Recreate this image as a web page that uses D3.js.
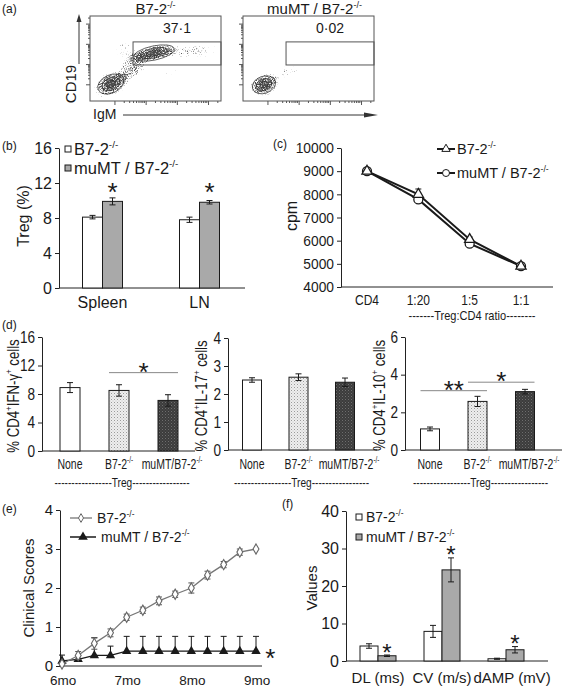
<!DOCTYPE html>
<html><head><meta charset="utf-8">
<script src="https://cdn.jsdelivr.net/npm/d3@7/dist/d3.min.js"></script>
<style>
html,body{margin:0;padding:0;background:#fff;}
svg{display:block;}
</style></head><body>
<svg id="fig" width="568" height="686" xmlns="http://www.w3.org/2000/svg"></svg>
<script>
// ================= DATA =================
// (a) flow cytometry (positions in log-decade units)
const flowTitles = ["B7-2^{-/-}", "muMT / B7-2^{-/-}"];
const flowGateLabels = ["37·1", "0·02"];
const flowGateX = [1.38, 4.2];
const flowGateY = [1.78, 2.92];
const flowDecades = [0.8, 1.8, 2.8, 3.8];
const flowCloudsB7 = [
  {cx:0.67, cy:0.84, rx:0.72, ry:0.72, rot:-25, d:1.0, rings:[0.62,0.42,0.22]},
  {cx:2.05, cy:2.37, rx:0.95, ry:0.5, rot:-12, d:1.0, rings:[0.7,0.48,0.26]},
  {cx:1.35, cy:1.6, rx:0.7, ry:0.7, rot:-40, d:0.75, rings:[]},
  {cx:3.3, cy:2.45, rx:1.1, ry:0.5, rot:-5, d:0.6, rings:[]},
  {cx:1.1, cy:2.5, rx:0.55, ry:0.75, rot:0, d:0.5, rings:[]},
  {cx:2.6, cy:1.3, rx:0.9, ry:0.5, rot:-15, d:0.35, rings:[]}
];
const flowCloudsMu = [
  {cx:0.67, cy:0.8, rx:0.62, ry:0.68, rot:-20, d:1.0, rings:[0.62,0.42,0.22]},
  {cx:1.4, cy:1.45, rx:0.65, ry:0.55, rot:-30, d:0.5, rings:[]},
  {cx:2.7, cy:1.15, rx:1.1, ry:0.45, rot:0, d:0.3, rings:[]}
];
// (b) Treg %
const tregCats = ["Spleen", "LN"];
const tregB7 = [8.1, 7.8];
const tregB7Err = [0.2, 0.3];
const tregMu = [9.9, 9.8];
const tregMuErr = [0.4, 0.2];
const tregStars = [11.7, 11.7];
const tregTicks = [0, 4, 8, 12, 16];
// (c) proliferation
const ratioCats = ["CD4", "1:20", "1:5", "1:1"];
const cpmB7 = [9000, 8000, 6050, 4900];
const cpmB7Err = [60, 230, 110, 60];
const cpmMu = [9000, 7780, 5870, 4900];
const cpmMuErr = [60, 120, 80, 60];
const cpmTicks = [4000, 5000, 6000, 7000, 8000, 9000, 10000];
// (d) cytokines
const cytoCats = ["None", "B7-2^{-/-}", "muMT/B7-2^{-/-}"];
const ifnVals = [8.9, 8.5, 7.1];
const ifnErr = [0.7, 0.8, 0.8];
const il17Vals = [2.5, 2.6, 2.42];
const il17Err = [0.08, 0.12, 0.15];
const il10Vals = [1.12, 2.58, 3.1];
const il10Err = [0.1, 0.27, 0.12];
const ifnTicks = [0, 4, 8, 12, 16];
const il17Ticks = [0, 1, 2, 3, 4];
const il10Ticks = [0, 2, 4, 6];
const ifnSig = [{a:1, b:2, level:11.0, label:"*"}];
const il17Sig = [];
const il10Sig = [{a:0, b:1, level:3.15, label:"**"}, {a:1, b:2, level:3.6, label:"*"}];
// (e) clinical scores
const months = [6, 6.25, 6.5, 6.75, 7, 7.25, 7.5, 7.75, 8, 8.25, 8.5, 8.75, 9];
const scoreB7 = [0.05, 0.27, 0.58, 0.85, 1.25, 1.43, 1.67, 1.84, 2.0, 2.33, 2.6, 2.92, 3.0];
const scoreB7Err = [0.04, 0.1, 0.15, 0.1, 0.08, 0.08, 0.1, 0.08, 0.13, 0.1, 0.08, 0.08, 0];
const scoreMu = [0.13, 0.17, 0.27, 0.27, 0.38, 0.38, 0.38, 0.38, 0.38, 0.38, 0.38, 0.38, 0.38];
const scoreMuErr = [0.15, 0.1, 0.45, 0.24, 0.38, 0.38, 0.38, 0.38, 0.38, 0.38, 0.38, 0.38, 0.38];
const monthTicks = [6, 7, 8, 9];
const monthLabels = ["6mo", "7mo", "8mo", "9mo"];
const scoreTicks = [0, 1, 2, 3, 4];
const scoreStar = {month: 9.22, score: 0.36};
// (f) nerve conduction
const ncsCats = ["DL (ms)", "CV (m/s)", "dAMP (mV)"];
const ncsB7 = [4.0, 7.9, 0.6];
const ncsB7Err = [0.6, 1.6, 0.15];
const ncsMu = [1.4, 24.3, 3.0];
const ncsMuErr = [0.2, 3.2, 0.85];
const ncsStars = [3.7, 29.8, 6.1];
const ncsTicks = [0, 10, 20, 30, 40];
const seriesNames = ["B7-2^{-/-}", "muMT / B7-2^{-/-}"];

// ================= HELPERS =================
const svg = d3.select("#fig");
svg.append("rect").attr("width", 568).attr("height", 686).attr("fill", "#fff");
const defs = svg.append("defs");
const FONT = '"Liberation Sans", Arial, Helvetica, sans-serif';
const INK = "#1a1a1a";
const GRAYBAR = "#a9a9a9";
const INT = d3.format("d");

// patterns
const pDots = defs.append("pattern").attr("id", "dots").attr("width", 3).attr("height", 3).attr("patternUnits", "userSpaceOnUse");
pDots.append("rect").attr("width", 3).attr("height", 3).attr("fill", "#eeeeee");
pDots.append("rect").attr("width", 1).attr("height", 1).attr("fill", "#9a9a9a");
pDots.append("rect").attr("x", 1.5).attr("y", 1.5).attr("width", 1).attr("height", 1).attr("fill", "#c4c4c4");
const pDark = defs.append("pattern").attr("id", "dark").attr("width", 3).attr("height", 3).attr("patternUnits", "userSpaceOnUse");
pDark.append("rect").attr("width", 3).attr("height", 3).attr("fill", "#3c3c3c");
pDark.append("rect").attr("width", 1).attr("height", 1).attr("fill", "#6e6e6e");
pDark.append("rect").attr("x", 1.5).attr("y", 1.5).attr("width", 1).attr("height", 1).attr("fill", "#555");

// cloud gradient + speckle filter for flow plots
const cg = defs.append("radialGradient").attr("id", "cloudGrad");
cg.append("stop").attr("offset", "0%").attr("stop-color", "#000").attr("stop-opacity", 0.9);
cg.append("stop").attr("offset", "55%").attr("stop-color", "#000").attr("stop-opacity", 0.6);
cg.append("stop").attr("offset", "100%").attr("stop-color", "#000").attr("stop-opacity", 0);
const fl = defs.append("filter").attr("id", "speckle").attr("x", "-20%").attr("y", "-20%")
  .attr("width", "140%").attr("height", "140%").attr("color-interpolation-filters", "sRGB");
fl.append("feTurbulence").attr("type", "fractalNoise").attr("baseFrequency", 0.9).attr("numOctaves", 2).attr("seed", 7).attr("result", "noise");
fl.append("feColorMatrix").attr("in", "noise").attr("type", "matrix")
  .attr("values", "0 0 0 0 0  0 0 0 0 0  0 0 0 0 0  1 0 0 0 0").attr("result", "na");
fl.append("feColorMatrix").attr("in", "SourceGraphic").attr("type", "matrix")
  .attr("values", "0 0 0 0 0  0 0 0 0 0  0 0 0 0 0  0 0 0 1 0").attr("result", "sa");
fl.append("feComposite").attr("in", "sa").attr("in2", "na").attr("operator", "arithmetic")
  .attr("k1", 0).attr("k2", 3.5).attr("k3", 3.5).attr("k4", -3.55).attr("result", "dots");
fl.append("feFlood").attr("flood-color", "#4d4d4d").attr("result", "col");
fl.append("feComposite").attr("in", "col").attr("in2", "dots").attr("operator", "in");

function rich(t, str) {
  const fs = +t.attr("font-size");
  const parts = str.split(/\^\{([^}]*)\}/);
  let up = false;
  parts.forEach((p, i) => {
    if (p === "") return;
    const s = t.append("tspan").text(p);
    if (i % 2 === 1) { s.attr("font-size", fs * 0.6).attr("dy", -fs * 0.42); up = true; }
    else if (up) { s.attr("dy", fs * 0.42); up = false; }
  });
  return t;
}
function label(g, x, y, str, fs, o = {}) {
  const t = g.append("text").attr("font-family", FONT).attr("font-size", fs).attr("fill", INK)
    .attr("text-anchor", o.anchor || "start");
  let tr = `translate(${x},${y})`;
  if (o.rot) tr += ` rotate(${o.rot})`;
  if (o.sx) tr += ` scale(${o.sx},1)`;
  t.attr("transform", tr);
  if (o.weight) t.attr("font-weight", o.weight);
  rich(t, str);
  return t;
}
function star(g, x, yc, str, fs = 26) {
  return label(g, x, yc + fs * 0.58, str, fs, {anchor: "middle"});
}
function leftAxis(g, y, x0, ticks, fs, sx = 1) {
  const ax = d3.axisLeft(y).tickValues(ticks).tickSize(4).tickSizeOuter(0).tickPadding(3).tickFormat(INT);
  const a = g.append("g").attr("transform", `translate(${x0},0)`).call(ax)
    .attr("font-family", FONT).attr("font-size", fs);
  a.selectAll("path,line").attr("stroke", "#222");
  a.selectAll("text").attr("fill", INK);
  if (sx !== 1) a.selectAll("text").attr("transform", `scale(${sx},1)`).attr("x", -7 / sx);
  return a;
}
function hline(g, x1, x2, y, color = "#222", w = 1) {
  g.append("line").attr("x1", x1).attr("x2", x2).attr("y1", y).attr("y2", y).attr("stroke", color).attr("stroke-width", w);
}
function errBar(g, x, ylo, yhi, cap, color = INK, w = 1, lowCap = true) {
  g.append("line").attr("x1", x).attr("x2", x).attr("y1", ylo).attr("y2", yhi).attr("stroke", color).attr("stroke-width", w);
  g.append("line").attr("x1", x - cap / 2).attr("x2", x + cap / 2).attr("y1", yhi).attr("y2", yhi).attr("stroke", color).attr("stroke-width", w);
  if (lowCap) g.append("line").attr("x1", x - cap / 2).attr("x2", x + cap / 2).attr("y1", ylo).attr("y2", ylo).attr("stroke", color).attr("stroke-width", w);
}
function groupedBars(g, cats, series, x, y, barW) {
  const xs = d3.scaleBand().domain(series.map((s, i) => i)).range([-barW, barW]);
  series.forEach((s, si) => {
    cats.forEach((c, i) => {
      const bx = x(c) + x.bandwidth() / 2 + xs(si);
      g.append("rect").attr("x", bx).attr("y", y(s.vals[i])).attr("width", xs.bandwidth())
        .attr("height", y(0) - y(s.vals[i])).attr("fill", s.fill).attr("stroke", INK).attr("stroke-width", 1);
      errBar(g, bx + xs.bandwidth() / 2, y(s.vals[i] - s.err[i]), y(s.vals[i] + s.err[i]), 6);
    });
  });
  return xs;
}

// ================= PANEL LABELS =================
label(svg, 2, 13, "(a)", 12);
label(svg, 2, 150, "(b)", 12);
label(svg, 273, 148, "(c)", 12);
label(svg, 2, 329, "(d)", 12);
label(svg, 2, 513, "(e)", 12);
label(svg, 282, 508, "(f)", 12);

// ================= (a) =================
function flowPlot(idx, x0, clouds) {
  const g = svg.append("g");
  const fx = d3.scaleLinear([0, 4.2], [x0, x0 + 131]);
  const fy = d3.scaleLinear([0, 4.2], [101, 16]);
  const clipId = "fclip" + idx;
  defs.append("clipPath").attr("id", clipId).append("rect").attr("x", x0).attr("y", 16).attr("width", 131).attr("height", 85);
  const c = g.append("g").attr("clip-path", `url(#${clipId})`);
  const cloudG = c.append("g").attr("filter", "url(#speckle)");
  clouds.forEach(p => {
    const cx = fx(p.cx), cy = fy(p.cy);
    cloudG.append("ellipse").attr("cx", cx).attr("cy", cy)
      .attr("rx", fx(p.rx) - fx(0)).attr("ry", fy(0) - fy(p.ry))
      .attr("transform", `rotate(${p.rot},${cx},${cy})`)
      .attr("fill", "url(#cloudGrad)").attr("fill-opacity", p.d);
  });
  clouds.forEach(p => p.rings.forEach(k => {
    const cx = fx(p.cx), cy = fy(p.cy);
    c.append("ellipse").attr("cx", cx).attr("cy", cy)
      .attr("rx", (fx(p.rx) - fx(0)) * k).attr("ry", (fy(0) - fy(p.ry)) * k)
      .attr("transform", `rotate(${p.rot},${cx},${cy})`)
      .attr("fill", "none").attr("stroke", "#2a2a2a").attr("stroke-width", 0.8).attr("stroke-opacity", 0.85);
  }));
  g.append("rect").attr("x", x0).attr("y", 16).attr("width", 131).attr("height", 85)
    .attr("fill", "none").attr("stroke", "#555").attr("stroke-width", 1);
  g.append("rect").attr("x", fx(flowGateX[0])).attr("y", fy(flowGateY[1]))
    .attr("width", fx(flowGateX[1]) - fx(flowGateX[0])).attr("height", fy(flowGateY[0]) - fy(flowGateY[1]))
    .attr("fill", "none").attr("stroke", "#555").attr("stroke-width", 1);
  flowDecades.forEach(dv => {
    [1, 2, 3, 4, 5, 6, 7, 8, 9].forEach(m => {
      const v = dv + Math.log10(m) * 0.99;
      const len = m === 1 ? 4 : 2;
      if (v < 4.2) {
        g.append("line").attr("x1", x0).attr("x2", x0 - len).attr("y1", fy(v)).attr("y2", fy(v)).attr("stroke", "#555");
        g.append("line").attr("y1", 101).attr("y2", 101 + len).attr("x1", fx(v)).attr("x2", fx(v)).attr("stroke", "#555");
      }
    });
  });
  label(svg, x0 + 65.5 + (idx ? 6 : 0), 14, flowTitles[idx], 15, {anchor: "middle"});
  label(svg, (fx(flowGateX[0]) + fx(flowGateX[1])) / 2, 33, flowGateLabels[idx], 14, {anchor: "middle"});
}
flowPlot(0, 90, flowCloudsB7);
flowPlot(1, 243, flowCloudsMu);
label(svg, 76, 84, "CD19", 15, {anchor: "middle", rot: -90});
svg.append("line").attr("x1", 79).attr("x2", 79).attr("y1", 64).attr("y2", 20).attr("stroke", "#333").attr("stroke-width", 1);
svg.append("path").attr("d", "M79,14 L76.5,22 L81.5,22 Z").attr("fill", "#333");
label(svg, 93, 119, "IgM", 14);
svg.append("line").attr("x1", 123).attr("x2", 366).attr("y1", 115).attr("y2", 115).attr("stroke", "#333").attr("stroke-width", 1);
svg.append("path").attr("d", "M378,115 L364,112.5 L364,117.5 Z").attr("fill", "#333");

// ================= (b) =================
{
  const g = svg.append("g");
  const y = d3.scaleLinear([0, 16], [288, 148]);
  const x = d3.scaleBand(tregCats, [54, 248]);
  leftAxis(g, y, 59, tregTicks, 16);
  hline(g, 59, 245, y(0));
  const xs = groupedBars(g, tregCats,
    [{vals: tregB7, err: tregB7Err, fill: "#fff"}, {vals: tregMu, err: tregMuErr, fill: GRAYBAR}], x, y, 20);
  tregCats.forEach((c, i) => {
    label(g, x(c) + x.bandwidth() / 2, 308, c, 16, {anchor: "middle"});
    star(g, x(c) + x.bandwidth() / 2 + xs(1) + xs.bandwidth() / 2, y(tregStars[i]), "*");
  });
  label(g, 29, 216, "Treg (%)", 16, {anchor: "middle", rot: -90});
  [["#fff", 149], [GRAYBAR, 168]].forEach((d, i) => {
    g.append("rect").attr("x", 65).attr("y", d[1] - 3).attr("width", 6).attr("height", 6).attr("fill", d[0]).attr("stroke", INK);
    label(g, 74, d[1] + 5.5, seriesNames[i], 16.5);
  });
}

// ================= (c) =================
{
  const g = svg.append("g");
  const x = d3.scalePoint(ratioCats, [367, 521]);
  const y = d3.scaleLinear([4000, 10000], [287, 148]);
  leftAxis(g, y, 341, cpmTicks, 15, 0.92);
  hline(g, 341, 553, y(4000));
  ratioCats.forEach(c => label(g, x(c), 305, c, 15, {anchor: "middle", sx: 0.8}));
  label(g, 472, 320, "-------Treg:CD4 ratio--------", 13, {anchor: "middle", sx: 0.85});
  label(g, 297, 216, "cpm", 16, {anchor: "middle", rot: -90});
  const line = d3.line().x((d, i) => x(ratioCats[i])).y(d => y(d));
  [[cpmMu, cpmMuErr], [cpmB7, cpmB7Err]].forEach(([v, e]) => {
    g.append("path").attr("d", line(v)).attr("fill", "none").attr("stroke", INK).attr("stroke-width", 2);
    v.forEach((d, i) => errBar(g, x(ratioCats[i]), y(d - e[i]), y(d + e[i]), 6));
  });
  const tri = d3.symbol(d3.symbolTriangle, 45);
  cpmMu.forEach((d, i) => g.append("circle").attr("cx", x(ratioCats[i])).attr("cy", y(d)).attr("r", 4.5)
    .attr("fill", "#fff").attr("stroke", INK).attr("stroke-width", 1.3));
  cpmB7.forEach((d, i) => g.append("path").attr("d", tri()).attr("transform", `translate(${x(ratioCats[i])},${y(d)})`)
    .attr("fill", "#fff").attr("stroke", INK).attr("stroke-width", 1.3));
  hline(g, 437, 455, 149, INK, 2);
  g.append("path").attr("d", d3.symbol(d3.symbolTriangle, 30)()).attr("transform", "translate(446,149)")
    .attr("fill", "#fff").attr("stroke", INK).attr("stroke-width", 1);
  label(g, 457, 154, seriesNames[0], 14.5);
  hline(g, 437, 455, 173, INK, 2);
  g.append("circle").attr("cx", 446).attr("cy", 173).attr("r", 3.5).attr("fill", "#fff").attr("stroke", INK);
  label(g, 457, 178, seriesNames[1], 14.5);
}

// ================= (d) =================
const dPanels = [
  {vals: ifnVals, err: ifnErr, ticks: ifnTicks, sig: ifnSig, max: 16, x0: 42, y0: 451, y1: 337, xEnd: 195, range: [45.5, 192.5], barW: 20, lx: 19, ylab: "% CD4^{+}IFN-γ^{+} cells"},
  {vals: il17Vals, err: il17Err, ticks: il17Ticks, sig: il17Sig, max: 4, x0: 228, y0: 450, y1: 338, xEnd: 377, range: [228.75, 368.25], barW: 19, lx: 207, ylab: "% CD4^{+}IL-17^{+} cells"},
  {vals: il10Vals, err: il10Err, ticks: il10Ticks, sig: il10Sig, max: 6, x0: 405, y0: 450, y1: 337, xEnd: 562, range: [406.25, 548.75], barW: 19, lx: 385, ylab: "% CD4^{+}IL-10^{+} cells"}
];
const dFills = ["#fff", "url(#dots)", "url(#dark)"];
dPanels.forEach(p => {
  const g = svg.append("g");
  const y = d3.scaleLinear([0, p.max], [p.y0, p.y1]);
  const x = d3.scaleBand(cytoCats, p.range);
  leftAxis(g, y, p.x0, p.ticks, 16, 0.85);
  hline(g, p.x0, p.xEnd, y(0));
  cytoCats.forEach((c, i) => {
    const cx = x(c) + x.bandwidth() / 2;
    g.append("rect").attr("x", cx - p.barW / 2).attr("y", y(p.vals[i])).attr("width", p.barW)
      .attr("height", y(0) - y(p.vals[i])).attr("fill", dFills[i]).attr("stroke", INK).attr("stroke-width", 1);
    errBar(g, cx, y(p.vals[i] - p.err[i]), y(p.vals[i] + p.err[i]), 6);
    label(g, cx + (i === 2 ? 4 : 0), 469, c, 15, {anchor: "middle", sx: 0.7});
  });
  const mid = x(cytoCats[1]) + x.bandwidth() / 2 + 3;
  label(g, mid, 487, "-----------------Treg-----------------", 13, {anchor: "middle", sx: 0.78});
  p.sig.forEach(s => {
    const xa = x(cytoCats[s.a]) + x.bandwidth() / 2 - p.barW / 2;
    const xb = x(cytoCats[s.b]) + x.bandwidth() / 2 + p.barW / 2;
    hline(g, xa, xb, y(s.level), "#888", 1);
    star(g, (xa + xb) / 2, y(s.level) - 7, s.label);
  });
  label(g, p.lx, (p.y0 + p.y1) / 2 + 2, p.ylab, 16.5, {anchor: "middle", rot: -90, sx: 0.8});
});

// ================= (e) =================
{
  const g = svg.append("g");
  const x = d3.scaleLinear([6, 9], [62, 256]);
  const y = d3.scaleLinear([0, 4], [666, 510]);
  leftAxis(g, y, 60, scoreTicks, 15);
  hline(g, 60, 262, y(0));
  monthTicks.forEach((m, i) => label(g, x(m) + 1, 684.5, monthLabels[i], 13.5, {anchor: "middle"}));
  label(g, 34, 588, "Clinical Scores", 15, {anchor: "middle", rot: -90});
  const line = d3.line().x((d, i) => x(months[i])).y(d => y(d));
  g.append("path").attr("d", line(scoreMu)).attr("fill", "none").attr("stroke", INK).attr("stroke-width", 1.3);
  scoreMu.forEach((d, i) => errBar(g, x(months[i]), y(d), y(d + scoreMuErr[i]), 6, INK, 1, false));
  const tri = d3.symbol(d3.symbolTriangle, 38);
  scoreMu.forEach((d, i) => g.append("path").attr("d", tri()).attr("transform", `translate(${x(months[i])},${y(d)})`).attr("fill", INK));
  g.append("path").attr("d", line(scoreB7)).attr("fill", "none").attr("stroke", "#777").attr("stroke-width", 1.3);
  scoreB7.forEach((d, i) => { if (scoreB7Err[i] > 0) errBar(g, x(months[i]), y(d - scoreB7Err[i]), y(d + scoreB7Err[i]), 6, "#555", 1); });
  const dia = d3.symbol(d3.symbolDiamond, 30);
  scoreB7.forEach((d, i) => g.append("path").attr("d", dia()).attr("transform", `translate(${x(months[i])},${y(d)})`)
    .attr("fill", "#fff").attr("stroke", "#666").attr("stroke-width", 1.1));
  star(g, x(scoreStar.month), y(scoreStar.score), "*");
  hline(g, 70, 92, 518, "#777", 1.3);
  g.append("path").attr("d", d3.symbol(d3.symbolDiamond, 22)()).attr("transform", "translate(81,518)").attr("fill", "#fff").attr("stroke", "#666");
  label(g, 97, 523, seriesNames[0], 14);
  hline(g, 70, 96, 537, INK, 1.5);
  g.append("path").attr("d", d3.symbol(d3.symbolTriangle, 40)()).attr("transform", "translate(83,537)").attr("fill", INK);
  label(g, 101, 542, seriesNames[1], 14);
}

// ================= (f) =================
{
  const g = svg.append("g");
  const y = d3.scaleLinear([0, 40], [661, 511]);
  const x = d3.scaleBand(ncsCats, [346, 538]);
  leftAxis(g, y, 346, ncsTicks, 16);
  hline(g, 346, 548, y(0));
  const xs = groupedBars(g, ncsCats,
    [{vals: ncsB7, err: ncsB7Err, fill: "#fff"}, {vals: ncsMu, err: ncsMuErr, fill: GRAYBAR}], x, y, 18);
  ncsCats.forEach((c, i) => {
    label(g, x(c) + x.bandwidth() / 2 + (i === 2 ? 6 : 0), 683, c, 15, {anchor: "middle"});
    star(g, x(c) + x.bandwidth() / 2 + xs(1) + xs.bandwidth() / 2, y(ncsStars[i]), "*", 24);
  });
  label(g, 317, 588, "Values", 15, {anchor: "middle", rot: -90});
  [["#fff", 517], [GRAYBAR, 537]].forEach((d, i) => {
    g.append("rect").attr("x", 356).attr("y", d[1] - 3).attr("width", 6).attr("height", 6).attr("fill", d[0]).attr("stroke", INK);
    label(g, 366, d[1] + 5, seriesNames[i], 14);
  });
}
</script>
</body></html>
